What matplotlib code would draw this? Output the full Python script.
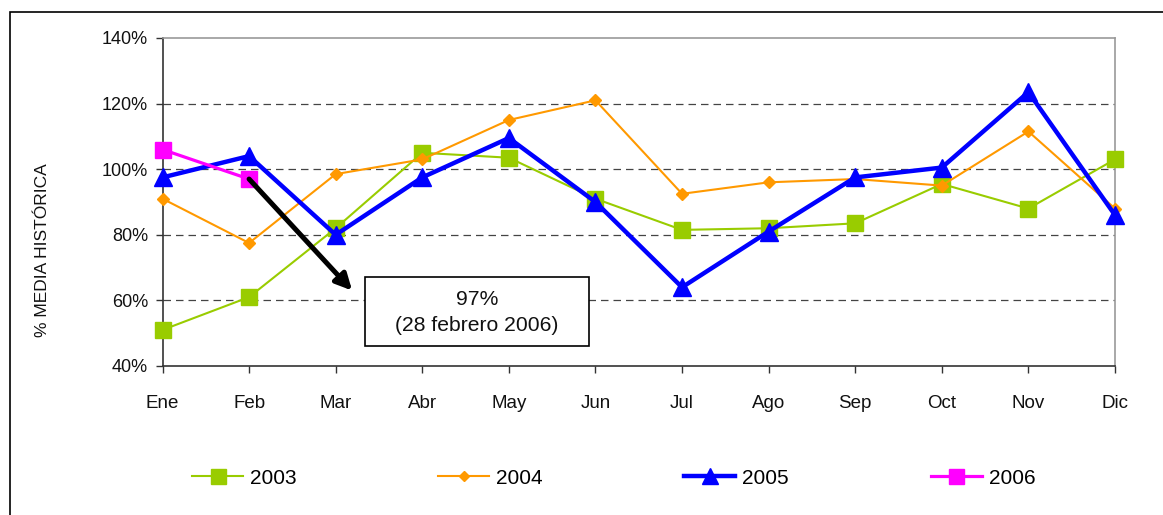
import matplotlib
matplotlib.use("Agg")
import matplotlib.pyplot as plt
from matplotlib.patches import Rectangle
from matplotlib.ticker import FuncFormatter

months = ["Ene", "Feb", "Mar", "Abr", "May", "Jun", "Jul", "Ago", "Sep", "Oct", "Nov", "Dic"]
s2003 = [51, 61, 82, 105, 103.5, 91, 81.5, 82, 83.5, 95.5, 88, 103]
s2004 = [91, 77.5, 98.5, 103, 115, 121, 92.5, 96, 97, 95, 111.5, 88]
s2005 = [97.5, 104, 80, 97.5, 109.5, 90, 64, 81, 97.5, 100.5, 123.5, 86]
s2006 = [106, 97]
annot_lines = ["97%", "(28 febrero 2006)"]

plt.rcParams['font.family'] = ['Liberation Sans', 'DejaVu Sans']

W, H = 1163, 515
fig = plt.figure(figsize=(W / 100, H / 100), dpi=100)
fig.patch.set_facecolor('white')

x0, x1, ytop, ybot = 162.5, 1115, 38, 366
ax = fig.add_axes([x0 / W, 1 - ybot / H, (x1 - x0) / W, (ybot - ytop) / H])

xs = list(range(len(months)))
l1, = ax.plot(xs, s2003, color='#99CC00', lw=1.5, marker='s', ms=12, mec='#99CC00', mfc='#99CC00', label='2003', zorder=3, clip_on=False)
l2, = ax.plot(xs, s2004, color='#FF9900', lw=1.5, marker='D', ms=6, mec='#FF9900', mfc='#FF9900', label='2004', zorder=4, clip_on=False)
l3, = ax.plot(xs, s2005, color='#0000FF', lw=3.2, marker='^', ms=13, mec='#0000FF', mfc='#0000FF', label='2005', zorder=5, clip_on=False)
l4, = ax.plot(xs[:len(s2006)], s2006, color='#FF00FF', lw=2.3, marker='s', ms=12, mec='#FF00FF', mfc='#FF00FF', label='2006', zorder=6, clip_on=False)

ax.set_xlim(0, 11)
ax.set_ylim(40, 140)
ax.set_yticks([40, 60, 80, 100, 120, 140])
ax.yaxis.set_major_formatter(FuncFormatter(lambda v, p: f"{int(v)}%"))
ax.set_xticks(xs)
ax.set_xticklabels(months)

for y in [60, 80, 100, 120]:
    ax.axhline(y, color='#444444', lw=0.9, ls=(0, (6, 4)), zorder=1)

ax.spines['top'].set_color('#999999')
ax.spines['right'].set_color('#999999')
ax.spines['left'].set_color('#333333')
ax.spines['bottom'].set_color('#333333')
for s in ax.spines.values():
    s.set_linewidth(1.2)

ax.tick_params(axis='y', direction='out', length=5, width=1, color='#333333', pad=5.5, labelsize=13, labelcolor='#111111')
ax.tick_params(axis='x', direction='out', length=5, width=1, color='#333333', pad=16, labelsize=13.5, labelcolor='#111111')

# annotation arrow from the Feb 2006 point
ax.annotate("", xy=(2.19, 63.0), xytext=(1, s2006[1]),
            arrowprops=dict(arrowstyle='-|>', lw=3.6, color='black', mutation_scale=24,
                            shrinkA=0, shrinkB=0), zorder=7)
ax.add_patch(Rectangle((2.339, 46.1), 2.587, 21.0, fill=True, facecolor='white',
                       edgecolor='black', lw=1.2, zorder=8))
ax.text(3.632, 56.3, "\n".join(annot_lines), ha='center', va='center', fontsize=15.2,
        linespacing=1.45, zorder=9, color='#111111')

fig.text(43 / W, 1 - 250 / H, "% MEDIA HISTÓRICA", rotation=90, ha='center', va='center',
         fontsize=12.5, color='#111111')

leg = fig.legend(handles=[l1, l2, l3, l4], loc='center left', bbox_to_anchor=(192 / W, 1 - 478 / H),
                 ncol=4, frameon=False, fontsize=15, handlelength=2.45, handletextpad=0.33,
                 columnspacing=6.8, borderpad=0, borderaxespad=0, numpoints=1, markerscale=0.9)

# outer frame
fig.add_artist(Rectangle((10 / W, -0.1), 1.0, 1.1 - 12 / H, transform=fig.transFigure,
                         fill=False, edgecolor='black', lw=1.2, clip_on=False))

fig.savefig("out.png", dpi=100)
